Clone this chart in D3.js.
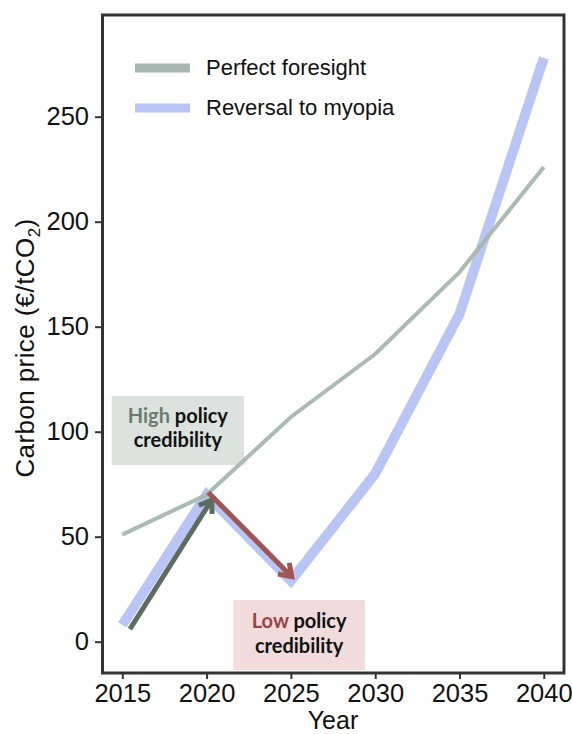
<!DOCTYPE html>
<html><head><meta charset="utf-8">
<script src="https://cdn.jsdelivr.net/npm/d3@7"></script>
<style>body{margin:0;background:#fff}svg{display:block}</style>
</head><body>
<script>
const years = [2015, 2020, 2025, 2030, 2035, 2040];
const perfectForesight = [51, 70, 107, 137, 176, 226];
const reversalMyopia = [8, 70, 29, 80, 156, 278];
const yTicks = [0, 50, 100, 150, 200, 250];
const seriesNames = ["Perfect foresight", "Reversal to myopia"];
const highArrow = [[2015.45, 6], [2020.3, 67.5]];
const lowArrow = [[2020.1, 71], [2025.05, 31]];

const W = 572, H = 734;
const svg = d3.select("body").append("svg").attr("width", W).attr("height", H);
const x = d3.scaleLinear().domain([2015, 2040]).range([122.3, 543.8]);
const y = d3.scaleLinear().domain([0, 250]).range([641.7, 116.7]);
const font = "Liberation Sans, Arial, sans-serif";

// frame
svg.append("rect").attr("x", 102.5).attr("y", 15).attr("width", 461.5).attr("height", 658)
  .attr("fill", "none").attr("stroke", "#333").attr("stroke-width", 3);

// axes
const yAxis = svg.append("g").attr("transform", "translate(101,0)")
  .call(d3.axisLeft(y).tickValues(yTicks).tickSize(6).tickPadding(6));
const xAxis = svg.append("g").attr("transform", "translate(0,674)")
  .call(d3.axisBottom(x).tickValues(years).tickFormat(d3.format("d")).tickSize(5).tickPadding(5));
[yAxis, xAxis].forEach(a => {
  a.select(".domain").remove();
  a.selectAll("line").attr("stroke", "#333").attr("stroke-width", 2);
  a.selectAll("text").attr("font-family", font).attr("font-size", 25.5).attr("fill", "#111");
});
xAxis.selectAll("text").attr("dy", "0.71em");

svg.append("text").attr("x", 333).attr("y", 729).attr("text-anchor", "middle")
  .attr("font-family", font).attr("font-size", 25).attr("fill", "#111").text("Year");
const yt = svg.append("text").attr("transform", "translate(34,348) rotate(-90)")
  .attr("text-anchor", "middle").attr("font-family", font).attr("font-size", 26)
  .attr("letter-spacing", 0.4).attr("fill", "#111");
yt.append("tspan").text("Carbon price (€/tCO");
yt.append("tspan").attr("font-size", 17).attr("dy", 6).text("2");
yt.append("tspan").attr("dy", -6).text(")");

// annotation boxes
function box(x0, y0, w, h, fill, word, wordColor, l1y, l2y) {
  svg.append("rect").attr("x", x0).attr("y", y0).attr("width", w).attr("height", h).attr("fill", fill);
  const cx = x0 + w / 2;
  const t = svg.append("text").attr("x", cx).attr("y", l1y).attr("text-anchor", "middle")
    .attr("font-family", "Lato, sans-serif").attr("font-weight", "bold").attr("font-size", 20);
  t.append("tspan").attr("fill", wordColor).text(word + " ");
  t.append("tspan").attr("fill", "#111").text("policy");
  svg.append("text").attr("x", cx).attr("y", l2y).attr("text-anchor", "middle")
    .attr("font-family", "Lato, sans-serif").attr("font-weight", "bold").attr("font-size", 20)
    .attr("fill", "#111").text("credibility");
}
box(111.7, 396, 132.3, 69, "#dce3df", "High", "#6b7c6f", 423, 447);
box(233.3, 600, 131.7, 70, "#f2dbdb", "Low", "#974545", 628, 653);

// lines
const line = d3.line().x((d, i) => x(years[i])).y(d => y(d));
svg.append("path").datum(reversalMyopia).attr("d", line).attr("fill", "none")
  .attr("stroke", "#b8c5f5").attr("stroke-width", 10).attr("stroke-linejoin", "miter");
svg.append("path").datum(perfectForesight).attr("d", line).attr("fill", "none")
  .attr("stroke", "#a5b7ae").attr("stroke-width", 4).attr("opacity", 0.95);

// arrows
function arrow(pts, color) {
  const [a, b] = pts;
  const x1 = x(a[0]), y1 = y(a[1]), x2 = x(b[0]), y2 = y(b[1]);
  const ang = Math.atan2(y2 - y1, x2 - x1);
  const L = 14, sp = 0.6;
  svg.append("line").attr("x1", x1).attr("y1", y1).attr("x2", x2 - 2 * Math.cos(ang)).attr("y2", y2 - 2 * Math.sin(ang))
    .attr("stroke", color).attr("stroke-width", 5);
  const p1 = [x2 - L * Math.cos(ang - sp), y2 - L * Math.sin(ang - sp)];
  const p2 = [x2 - L * Math.cos(ang + sp), y2 - L * Math.sin(ang + sp)];
  svg.append("path").attr("d", `M${p1}L${x2},${y2}L${p2}`).attr("fill", "none")
    .attr("stroke", color).attr("stroke-width", 5).attr("stroke-linejoin", "miter");
}
arrow(highArrow, "#5c6d5f");
arrow(lowArrow, "#a05454");

// legend
const legColors = ["#a5b7ae", "#b8c5f5"];
const lg = svg.append("g");
seriesNames.forEach((n, i) => {
  const yy = 68 + i * 40;
  lg.append("line").attr("x1", 135).attr("x2", 190).attr("y1", yy).attr("y2", yy)
    .attr("stroke", legColors[i]).attr("stroke-width", 9);
  lg.append("text").attr("x", 206).attr("y", yy + 7).attr("font-family", font).attr("font-size", 22)
    .attr("fill", "#111").text(n);
});
</script>
</body></html>
